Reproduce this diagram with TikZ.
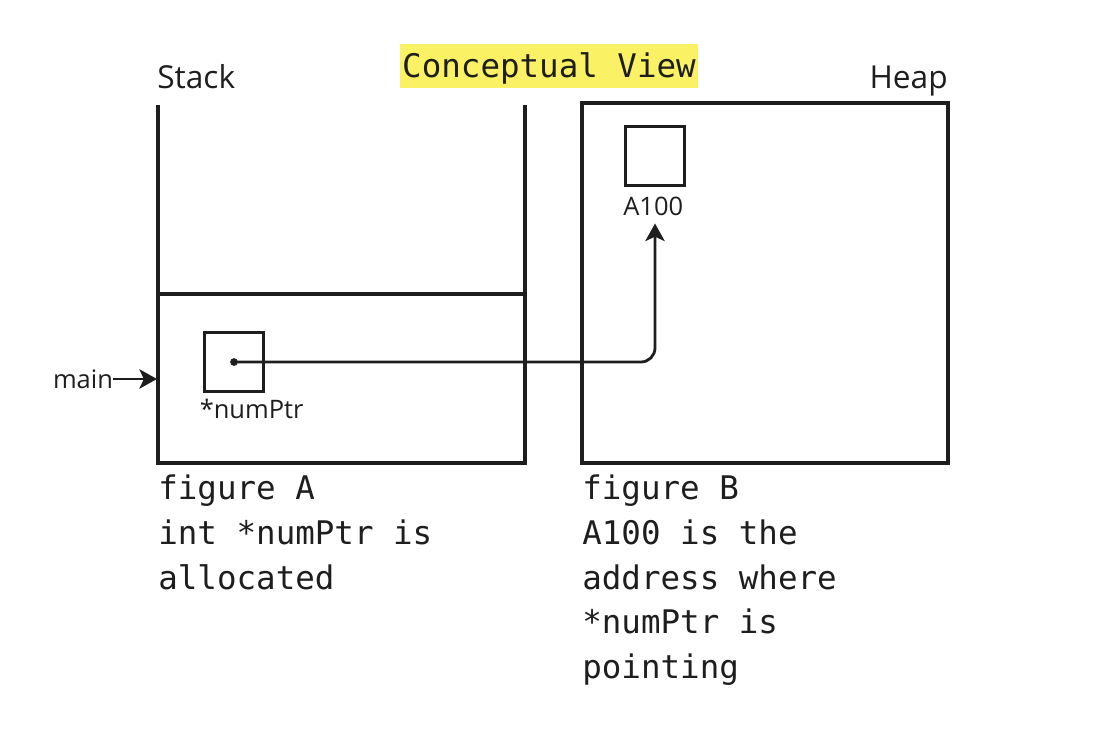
\documentclass[tikz,border=0pt]{standalone}
\usepackage{fontspec}
\setmainfont{Open Sans}
\newfontfamily\codefont{DejaVu Sans Mono}
\usetikzlibrary{arrows.meta, positioning}
\definecolor{hlyellow}{RGB}{250,242,100}
\definecolor{inkdark}{RGB}{30,30,30}

\begin{document}
\begin{tikzpicture}[x=0.02cm, y=-0.02cm, node distance=0.1cm,
    wall/.style={draw=inkdark, line width=1.8pt},
    cell/.style={draw=inkdark, line width=1.5pt, minimum size=1.19cm, inner sep=0},
    lbl/.style={font=\fontsize{14.5}{16}\selectfont, text=inkdark, inner sep=0},
    title/.style={font=\fontsize{18}{20}\selectfont, text=inkdark, inner sep=0},
    note/.style={font=\codefont\fontsize{18.5}{25.6}\selectfont, text=inkdark, align=left, inner sep=0},
    ptr/.style={-{Stealth[length=10pt, width=11pt, inset=2.5pt]}, line width=1.6pt, draw=inkdark, rounded corners=8pt}]
    \useasboundingbox (0,0) rectangle (1118,750);

    \node (view) [fill=hlyellow, font=\codefont\fontsize{18.5}{20}\selectfont, text=inkdark,
        minimum width=5.96cm, minimum height=0.88cm, inner sep=0,
        text height=17.5pt, text depth=4.5pt] at (549,66) {Conceptual View};
    \node (stacklbl) [title, anchor=base west] at (157,89) {Stack};
    \node (heaplbl) [title, anchor=base east] at (948,89) {Heap};

    \coordinate (stacktl) at (158,105);
    \coordinate (stackbl) at (158,463);
    \coordinate (stackbr) at (525,463);
    \coordinate (stacktr) at (525,105);
    \coordinate (framel) at (158,294);
    \coordinate (framer) at (525,294);
    \draw[wall] (stacktl) -- (stackbl) -- (stackbr) -- (stacktr);
    \draw[wall] (framel) -- (framer);

    \node (heap) [wall, minimum width=7.32cm, minimum height=7.2cm, inner sep=0] at (765,283) {};

    \node (ptrcell) [cell] at (234,362) {};
    \node (ptrlbl) [lbl, below=0.12cm of ptrcell.south west, anchor=north west, xshift=-2pt] {*numPtr};
    \node (heapcell) [cell] at (655,156) {};
    \node (addrlbl) [lbl, below=0.2cm of heapcell, xshift=-1pt] {A100};
    \fill[inkdark] (ptrcell.center) circle (2.2pt);
    \draw[ptr] (ptrcell.center) -| ([yshift=-0.14cm]heapcell.south |- addrlbl.south);

    \node (main) [lbl] at (83,379) {main};
    \coordinate (mainin) at (157,379);
    \draw[ptr] (main) -- (mainin);

    \node (notea) [note, anchor=north west] at (158,474) {figure A\\int *numPtr is\\allocated};
    \node (noteb) [note, anchor=north west] at (582,474) {figure B\\A100 is the\\address where\\*numPtr is\\pointing};
\end{tikzpicture}
\end{document}
